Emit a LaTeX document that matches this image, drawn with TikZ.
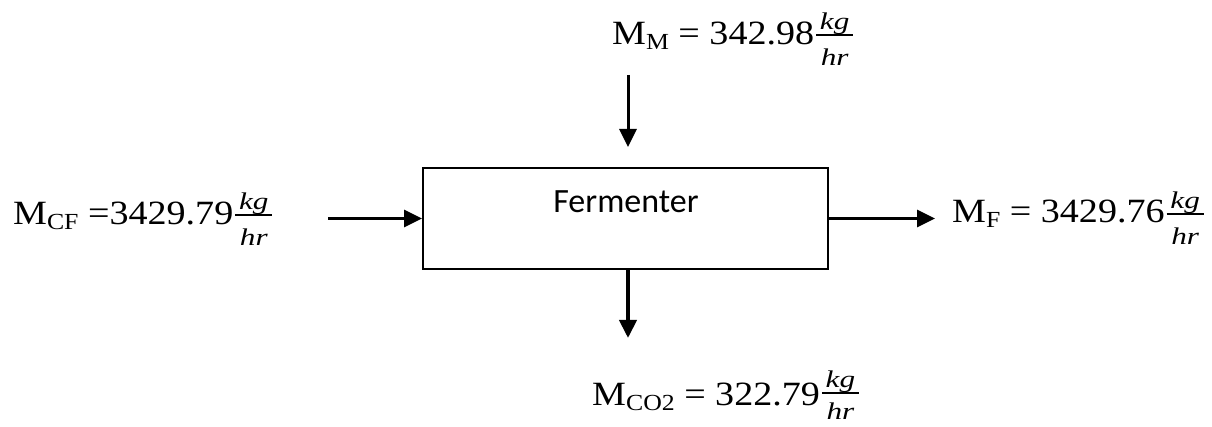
\documentclass[tikz,border=0pt]{standalone}
\usepackage{fontspec}
\setmainfont{Liberation Serif}[FakeStretch=1.12]
\newfontfamily\carl{Carlito}
\newfontfamily\fracfont{Liberation Serif}[FakeStretch=1.3]
\usetikzlibrary{arrows.meta}
\newcommand\ff{\fracfont\itshape\fontsize{24}{24}\selectfont}
\newcommand\kgfr[2]{\kern2pt\raisebox{#1}{\rlap{\raisebox{5.5pt}{\makebox[37pt]{\ff kg}}}\rlap{\raisebox{-#2}{\makebox[37pt]{\ff hr}}}\rule[-0.75pt]{37pt}{1.5pt}}}
\newcommand\sbs[1]{\raisebox{-5pt}{\fontsize{23}{23}\selectfont #1}}
\begin{document}
\begin{tikzpicture}[x=1pt,y=-1pt,
  lbl/.style={inner sep=0pt, anchor=base west, font=\fontsize{34}{40}\selectfont},
  flow/.style={line width=3pt, -{Triangle[length=18pt,width=17pt]}},
  unit/.style={draw, line width=2pt, minimum width=405pt, minimum height=101pt, inner sep=0pt}]
\useasboundingbox (0,0) rectangle (1212,427);
\node[unit] (fer) at (625.5,218.5) {};
\node[inner sep=0pt, anchor=base, font=\carl\fontsize{34}{40}\selectfont] (fertext) at (626,212.7) {Fermenter};
\node[lbl] (mcf) at (13,225) {M\sbs{CF} =3429.79\kgfr{10pt}{31pt}};
\node[lbl] (mm) at (612,45) {M\sbs{M} = 342.98\kgfr{10pt}{31pt}};
\node[lbl] (mf) at (952,223) {M\sbs{F} = 3429.76\kgfr{9pt}{31pt}};
\node[lbl] (mco) at (592,405) {M\sbs{CO2} = 322.79\kgfr{12pt}{26pt}};
\coordinate (ls) at (328,218.5);
\coordinate (ts) at (628,75);
\coordinate (te) at (628,147);
\coordinate (re) at (935,218.5);
\coordinate (bs) at (628,269);
\coordinate (be) at (628,338);
\draw[flow] (ls) -- (fer.west);
\draw[flow] (ts) -- (te);
\draw[flow] (fer.east) -- (re);
\draw[flow, line width=4pt] (bs) -- (be);
\end{tikzpicture}
\end{document}
